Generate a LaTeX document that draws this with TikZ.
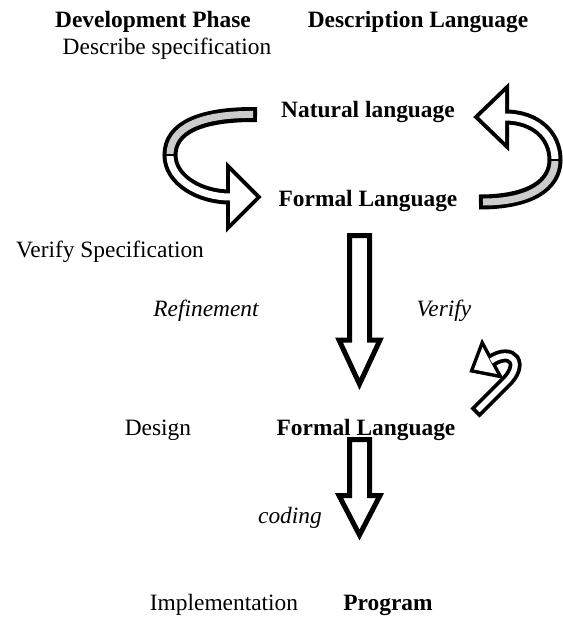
\documentclass[tikz,border=0pt]{standalone}
\usepackage{fontspec}
\setmainfont{Liberation Serif}
\begin{document}
\begin{tikzpicture}[x=0.5pt, y=-0.5pt,
  main/.style = {anchor=base, inner sep=0pt, font=\fontsize{11.7}{14}\selectfont},
  lang/.style = {main, font=\fontsize{11.7}{14}\selectfont\bfseries},
  act/.style = {main, font=\fontsize{11.7}{14}\selectfont\itshape},
  block/.style = {draw, line width=2.5pt, fill=white, line join=miter},
  band/.style = {line width=7.5pt},
  core/.style = {line width=3.5pt},
  tip/.style = {line width=4pt, line join=miter}]
\useasboundingbox (0,0) rectangle (563,617);
% straight arrows
\draw[block] (349.5,235.5) -- (369.5,235.5) -- (369.5,340) -- (380,340) -- (359.5,384) -- (339,340) -- (349.5,340) -- cycle;
\draw[block] (349.5,439.5) -- (369.5,439.5) -- (369.5,495.5) -- (380,495.5) -- (359.5,535) -- (339,495.5) -- (349.5,495.5) -- cycle;
% turning arrows, outline first
\draw[band] (257,114.5) .. controls (200,114) and (170,128) .. (170,155) .. controls (170,180) and (200,197) .. (230,197);
\filldraw[tip] (230,171) -- (256,197) -- (230,223) -- cycle;
\draw[band] (479,202) .. controls (530,202) and (555,185) .. (555,160) .. controls (555,135) and (535,117) .. (505,117);
\filldraw[tip] (505,92) -- (479,117) -- (505,142) -- cycle;
\draw[line width=6.5pt] (475,413) -- (504,384) .. controls (526,364) and (512,347) .. (491,361);
\filldraw[tip, line width=3.5pt] (482.5,347) -- (474,369.5) -- (497,374) -- cycle;
% then the inside
\draw[core, gray!40, shorten <=2pt] (257,114.5) .. controls (200,114) and (170,128) .. (170,155);
\draw[core, white] (170,155) .. controls (170,180) and (200,197) .. (230,197);
\fill[white] (230,171) -- (256,197) -- (230,223) -- cycle;
\draw[line width=1pt] (163,155) -- (177,155);
\draw[core, gray!40, shorten <=2pt] (479,202) .. controls (530,202) and (555,185) .. (555,160);
\draw[core, white] (555,160) .. controls (555,135) and (535,117) .. (505,117);
\fill[white] (505,92) -- (479,117) -- (505,142) -- cycle;
\draw[line width=1pt] (548,160) -- (562,160);
\draw[line width=2.7pt, white, shorten <=1.9pt] (475,413) -- (504,384) .. controls (526,364) and (512,347) .. (491,361);
\fill[white] (482.5,347) -- (474,369.5) -- (497,374) -- cycle;
% texts
\node[lang] (1) at (153,27) {Development Phase};
\node[lang] (2) at (418,27) {Description Language};
\node[main] (3) at (167,54) {Describe specification};
\node[lang] (4) at (368,117) {Natural language};
\node[lang] (5) at (368,206) {Formal Language};
\node[main] (6) at (110,257) {Verify Specification};
\node[act] (7) at (206,316) {Refinement};
\node[act] (8) at (444,316) {Verify};
\node[main] (9) at (158,435) {Design};
\node[lang] (10) at (366,435) {Formal Language};
\node[act] (11) at (290,523) {coding};
\node[main] (12) at (224,610) {Implementation};
\node[lang] (13) at (388,610) {Program};
\end{tikzpicture}
\end{document}
